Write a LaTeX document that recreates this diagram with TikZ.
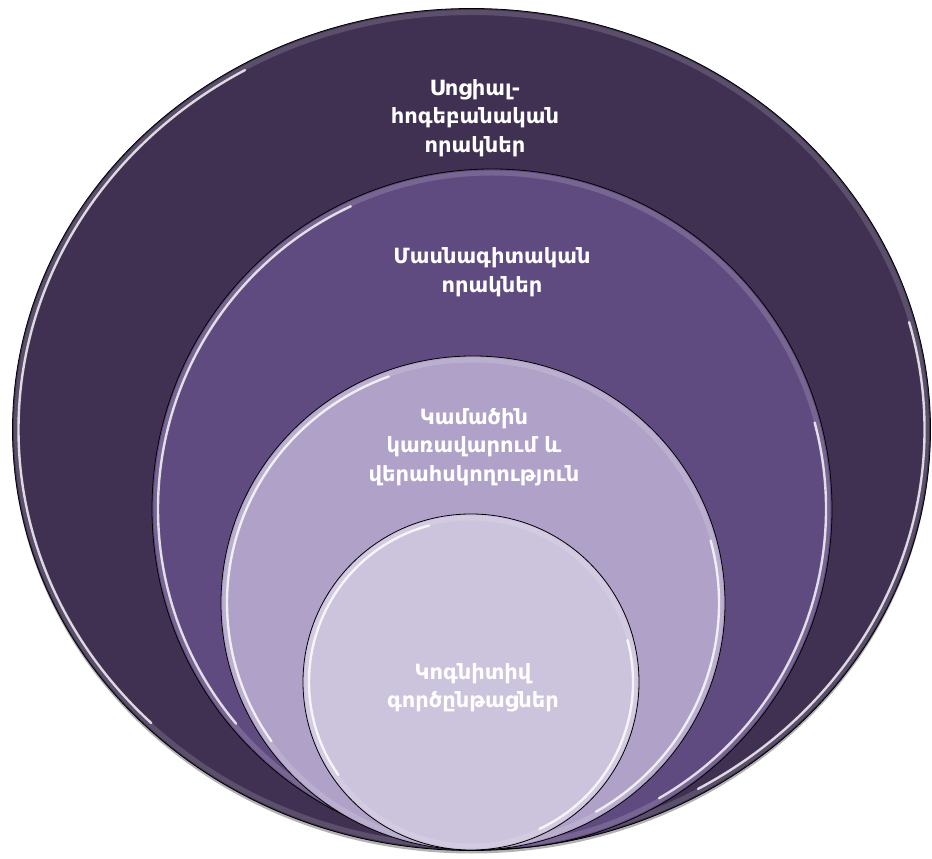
\documentclass[tikz,border=0pt]{standalone}
\usepackage{fontspec}
\newfontfamily\armfont{DejaVu Sans}
\usepackage{tikz}
\usetikzlibrary{calc}

\definecolor{ringA}{RGB}{64,49,82}
\definecolor{ringB}{RGB}{96,75,128}
\definecolor{ringC}{RGB}{175,161,199}
\definecolor{ringD}{RGB}{204,195,220}

\tikzset{
  ring/.style={draw=black, line width=0.8pt},
  glint/.style={draw=white, line width=2.4pt, opacity=0.8, line cap=round},
  glow/.style={draw=white, line width=5pt, opacity=0.15},
  ringtext/.style={text=white, align=center, font=\armfont\bfseries\fontsize{21}{28.5}\selectfont}
}

\begin{document}
\begin{tikzpicture}[x=1pt,y=1pt]

\useasboundingbox (0,0) rectangle (932,859);

% centres
\coordinate (OA) at (471.5,429.5);
\coordinate (OB) at (492,350);
\coordinate (OC) at (473,256);
\coordinate (OD) at (471,177);

% shadow
\fill[black, opacity=0.3] (471.5,426.5) ellipse [x radius=459, y radius=421];

% outer ring
\filldraw[ring, fill=ringA] (OA) ellipse [x radius=459, y radius=421];
\draw[glow] (OA) ellipse [x radius=455, y radius=417];
\draw[glint] (OA) ++(120:453 and 415) arc[start angle=120, end angle=225, x radius=453, y radius=415];
\draw[glint] (OA) ++(-60:453 and 415) arc[start angle=-60, end angle=15, x radius=453, y radius=415];

% second ring
\filldraw[ring, fill=ringB] (OB) circle (340);
\draw[glow] (OB) circle (336);
\draw[glint] (OB) ++(115:334) arc[start angle=115, end angle=220, radius=334];
\draw[glint] (OB) ++(-60:334) arc[start angle=-60, end angle=15, radius=334];

% third ring
\filldraw[ring, fill=ringC] (OC) ellipse [x radius=252, y radius=247];
\draw[glow] (OC) ellipse [x radius=248, y radius=243];
\draw[glint] (OC) ++(110:246 and 241) arc[start angle=110, end angle=215, x radius=246, y radius=241];
\draw[glint] (OC) ++(-60:246 and 241) arc[start angle=-60, end angle=15, x radius=246, y radius=241];

% inner disc
\filldraw[ring, fill=ringD] (OD) circle (168);
\draw[glow] (OD) circle (164);
\draw[glint] (OD) ++(105:162) arc[start angle=105, end angle=215, radius=162];
\draw[glint] (OD) ++(-65:162) arc[start angle=-65, end angle=15, radius=162];

% texts
\node[ringtext] (social) at (475,741) {Սոցիալ-\\հոգեբանական\\որակներ};
\node[ringtext] (prof) at (492,587) {Մասնագիտական\\որակներ};
\node[ringtext] (control) at (474,412) {Կամածին\\կառավարում և\\վերահսկողություն};
\node[ringtext] (cogn) at (473,171) {Կոգնիտիվ\\գործընթացներ};

\end{tikzpicture}
\end{document}
